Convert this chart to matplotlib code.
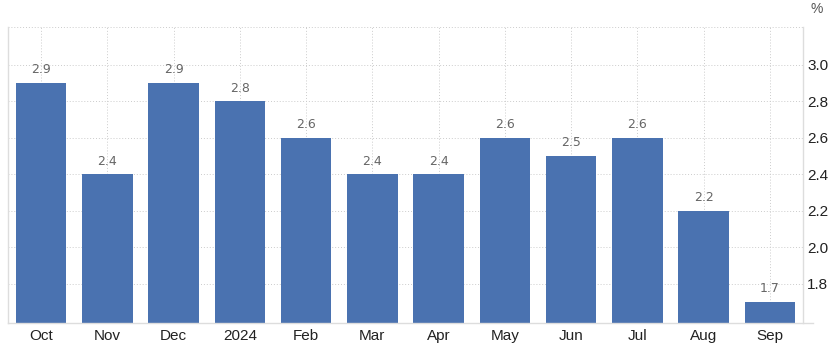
import matplotlib.pyplot as plt

# Datos del gráfico
meses = ['Oct', 'Nov', 'Dec', '2024', 'Feb', 'Mar', 'Apr', 'May', 'Jun', 'Jul', 'Aug', 'Sep']
valores = [2.9, 2.4, 2.9, 2.8, 2.6, 2.4, 2.4, 2.6, 2.5, 2.6, 2.2, 1.7]
ticks_y = [1.8, 2.0, 2.2, 2.4, 2.6, 2.8, 3.0]

fig = plt.figure(figsize=(8.29, 3.56), dpi=100)
ax = fig.add_axes([8 / 829, 33 / 356, 795 / 829, 296 / 356])

x = range(len(meses))
bars = ax.bar(x, valores, width=0.76, color='#4a72b0', zorder=2)

ax.set_xlim(-0.5, len(meses) - 0.5)
ax.set_ylim(1.586, 3.208)

# Etiquetas de valor sobre cada barra
for bar, v in zip(bars, valores):
    ax.annotate(f'{v:.1f}', (bar.get_x() + bar.get_width() / 2, bar.get_height()),
                xytext=(0, 5), textcoords='offset points',
                ha='center', va='bottom', fontsize=9, color='#666666')

# Ejes y rejilla
ax.yaxis.tick_right()
ax.set_yticks(ticks_y)
ax.set_yticklabels([f'{t:.1f}' for t in ticks_y], fontfamily='Liberation Sans')
ax.set_xticks(list(x))
ax.set_xticklabels(meses, fontfamily='Liberation Sans')
ax.tick_params(axis='both', length=0, labelsize=11, colors='#222222')
ax.tick_params(axis='y', pad=3)
ax.tick_params(axis='x', pad=4)

ax.grid(True, color='#cccccc', linestyle=(0, (1, 2)), linewidth=0.7, zorder=0)
ax.axhline(3.208, color='#cccccc', linestyle=(0, (1, 2)), linewidth=0.7, zorder=0)

ax.spines['top'].set_visible(False)
for lado in ['left', 'right', 'bottom']:
    ax.spines[lado].set_color('#dddddd')
    ax.spines[lado].set_linewidth(1)
ax.spines['bottom'].set_bounds(-0.5, 11.65)

fig.text(817 / 829, 1 - 9 / 356, '%', ha='center', va='center', fontsize=10,
         color='#555555', fontfamily='Liberation Sans')

plt.savefig('out.png', dpi=100)
